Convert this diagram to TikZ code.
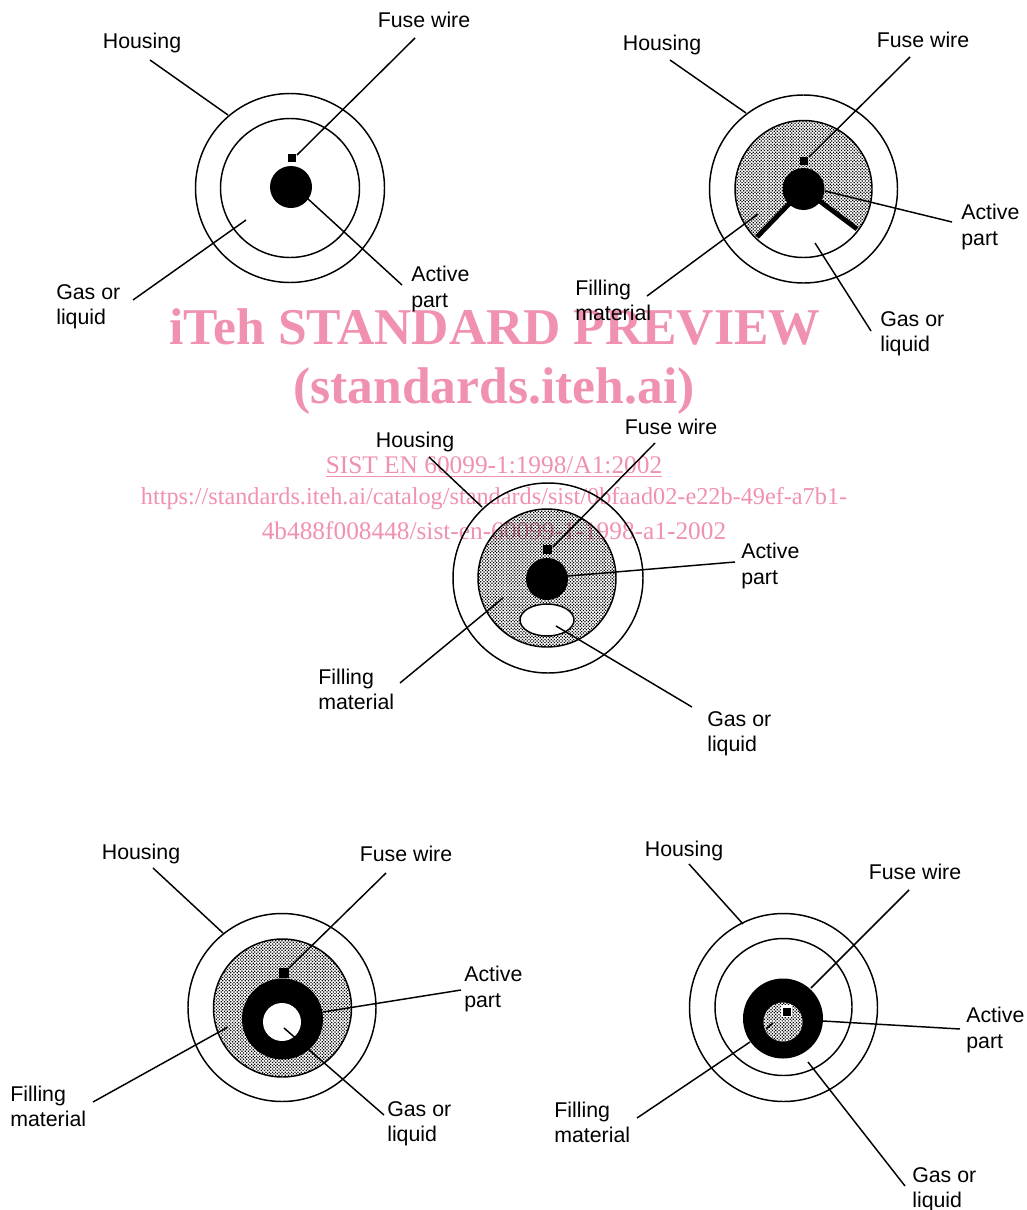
\documentclass[tikz,border=0pt]{standalone}
\usepackage{fontspec}
\setmainfont{Liberation Sans}
\newfontfamily\wmfont{Liberation Serif}
\usetikzlibrary{patterns.meta}
\definecolor{wmpink}{RGB}{240,145,175}
\tikzset{
  wall/.style   = {draw=black, line width=1.1pt},
  lead/.style   = {draw=black, line width=1.1pt},
  stipple/.style= {pattern={Dots[distance=1.7pt,radius=0.66pt,angle=45]}, pattern color=black},
  lbl/.style    = {font=\fontsize{16}{18.8}\selectfont, align=left, inner sep=0pt, anchor=west},
  toplbl/.style = {font=\fontsize{16}{18.8}\selectfont, inner sep=0pt},
  wmbig/.style  = {font=\wmfont\bfseries\fontsize{38.7}{46}\selectfont, text=wmpink, inner sep=0pt},
  wmsmall/.style= {font=\wmfont\fontsize{19}{23}\selectfont, text=wmpink, inner sep=0pt},
}
\begin{document}
\begin{tikzpicture}[x=0.75pt,y=-0.75pt]
  \useasboundingbox (0,0) rectangle (1027,1210);

  % top left: gas or liquid only
  \draw[wall] (290,188) circle (94.5*0.75pt);
  \draw[wall] (290,188) circle (69.5*0.75pt);
  \fill[black] (291,187) circle (21*0.75pt);
  \fill[black] (288,154) rectangle (296,162);

  % top right: filling with a gas wedge
  \draw[wall] (803.5,189) circle (94*0.75pt);
  \fill[stipple] (803.5,189) circle (68.5*0.75pt);
  \begin{scope}
    \clip (803.5,189) circle (68.5*0.75pt);
    \fill[white] (803.5,189) -- (746,248) -- (746,300) -- (870,300) -- (870,239) -- cycle;
  \end{scope}
  \draw[wall] (803.5,189) circle (68.5*0.75pt);
  \draw[black, line width=3.6pt] (803.5,189) -- (757,237);
  \draw[black, line width=3.6pt] (803.5,189) -- (857,229);
  \fill[black] (803.5,189) circle (21*0.75pt);
  \fill[black] (800,157) rectangle (808,165);

  % middle: filling with a bubble
  \draw[wall] (548,578) circle (95*0.75pt);
  \fill[stipple] (547,578) circle (69*0.75pt);
  \draw[wall] (547,578) circle (69*0.75pt);
  \fill[black] (547,579) circle (21*0.75pt);
  \fill[black] (543,545) rectangle (552,554);
  \draw[wall, fill=white] (547,620) ellipse (27*0.75pt and 16*0.75pt);

  % bottom left: hollow active part in the filling
  \draw[wall] (282,1007.5) circle (94*0.75pt);
  \fill[stipple] (282.5,1008) circle (69*0.75pt);
  \draw[wall] (282.5,1008) circle (69*0.75pt);
  \fill[black] (282.5,1019) circle (40.5*0.75pt);
  \fill[white] (282,1022) circle (19*0.75pt);
  \fill[black] (279,968) rectangle (289,978);

  % bottom right: filling inside the active part
  \draw[wall] (783.5,1007.5) circle (94*0.75pt);
  \draw[wall] (783.5,1007) circle (68.5*0.75pt);
  \fill[black] (783,1018.5) circle (40*0.75pt);
  \fill[white] (783,1022) circle (19.5*0.75pt);
  \fill[stipple] (783,1022) circle (19.5*0.75pt);
  \fill[white] (781,1005) rectangle (792,1017);
  \fill[black] (783,1008) rectangle (791,1016);

  % leader lines
  \foreach \n/\xa/\ya/\xb/\yb in {
      housA/150/60/228/115, fuseA/415/38/297/155, gasA/133/300/246/220, actA/307/198/402/285,
      housB/670/60/746/113, fuseB/910/57/809/157, actB/825/191/952/222, fillB/647/296/758/214, gasB/815/243/871/331,
      housC/429/457/482/507, fuseC/655/443/553/547, actC/568/576/735/562, fillC/400/683/503/598, gasC/556/626/692/707,
      housD/153/868/223/933, fuseD/386/873/289/968, actD/323/1012/461/990, fillD/93/1102/228/1027, gasD/284/1028/384/1115,
      housE/689/864/743/924, fuseE/909/890/811/988, actE/823/1021/960/1029, fillE/637/1118/750/1042, stubE/766/1029/773/1023, gasE/808/1062/905/1186}{
    \coordinate (\n s) at (\xa,\ya);
    \coordinate (\n e) at (\xb,\yb);
    \draw[lead] (\n s) -- (\n e);
  }

  % labels
  \node[toplbl] (lhousA) at (142,43) {Housing};
  \node[toplbl] (lfuseA) at (424,20) {Fuse wire};
  \node[lbl] (lgasA) at (56,307) {Gas or\\liquid};
  \node[lbl] (lactA) at (411,289) {Active\\part};

  \node[toplbl] (lhousB) at (662,45) {Housing};
  \node[toplbl] (lfuseB) at (923,40) {Fuse wire};
  \node[lbl] (lactB) at (961,227) {Active\\part};
  \node[lbl] (lfillB) at (575,300) {Filling\\material};
  \node[lbl] (lgasB) at (880,334) {Gas or\\liquid};

  \node[toplbl] (lhousC) at (415,442) {Housing};
  \node[toplbl] (lfuseC) at (671,427) {Fuse wire};
  \node[lbl] (lactC) at (741,566) {Active\\part};
  \node[lbl] (lfillC) at (318,689) {Filling\\material};
  \node[lbl] (lgasC) at (707,734) {Gas or\\liquid};

  \node[toplbl] (lhousD) at (141,854) {Housing};
  \node[toplbl] (lfuseD) at (406,854) {Fuse wire};
  \node[lbl] (lactD) at (464,989) {Active\\part};
  \node[lbl] (lfillD) at (10,1106) {Filling\\material};
  \node[lbl] (lgasD) at (387,1124) {Gas or\\liquid};

  \node[toplbl] (lhousE) at (684,851) {Housing};
  \node[toplbl] (lfuseE) at (915,872) {Fuse wire};
  \node[lbl] (lactE) at (966,1030) {Active\\part};
  \node[lbl] (lfillE) at (554,1122) {Filling\\material};
  \node[lbl] (lgasE) at (912,1190) {Gas or\\liquid};

  % watermark over everything
  \begin{scope}[blend mode=multiply]
    \node[wmbig] (wmA) at (495,327) {iTeh STANDARD PREVIEW};
    \node[wmbig] (wmB) at (494,391) {(standards.iteh.ai)};
    \node[wmsmall] (wmC) at (494,467) {\underline{SIST EN 60099-1:1998/A1:2002}};
    \node[wmsmall, font=\wmfont\fontsize{18.2}{23}\selectfont] (wmD) at (494,499) {https://standards.iteh.ai/catalog/standards/sist/0bfaad02-e22b-49ef-a7b1-};
    \node[wmsmall] (wmE) at (494,531) {4b488f008448/sist-en-60099-1-1998-a1-2002};
  \end{scope}
\end{tikzpicture}
\end{document}
